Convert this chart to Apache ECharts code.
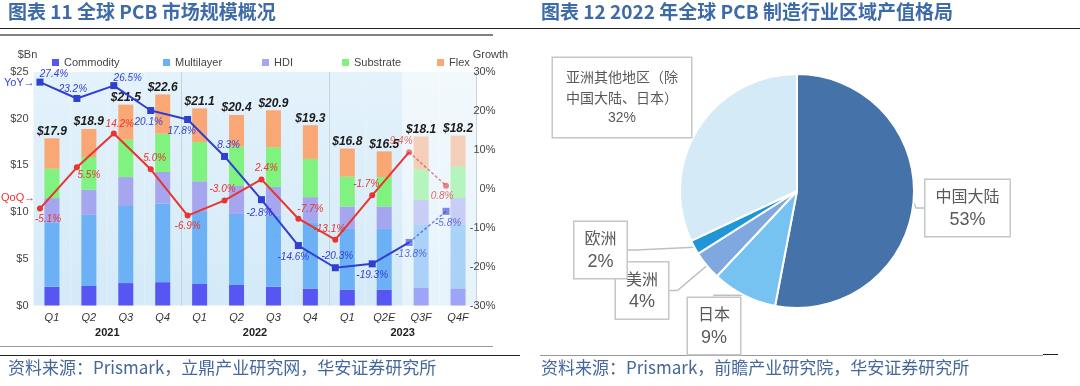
<!DOCTYPE html>
<html><head><meta charset="utf-8">
<script src="https://cdn.jsdelivr.net/npm/echarts@6/dist/echarts.min.js"></script>
<style>html,body{margin:0;padding:0;background:#fff}#c{width:1080px;height:386px}</style>
</head><body><div id="c"></div>
<script>
// ---------- data ----------
const quarters = ['Q1','Q2','Q3','Q4','Q1','Q2','Q3','Q4','Q1','Q2E','Q3F','Q4F'];
const years = ['2021','2022','2023'];
const commodity  = [2.0, 2.1, 2.4, 2.5, 2.3, 2.2, 2.0, 1.8, 1.7, 1.7, 1.9, 1.8];
const multilayer = [6.9, 7.6, 8.25, 8.4, 7.7, 7.6, 7.6, 7.1, 6.5, 6.5, 6.75, 6.85];
const hdi        = [2.6, 2.7, 3.1, 3.4, 3.3, 3.0, 3.1, 2.7, 2.4, 2.4, 2.65, 2.85];
const substrate  = [3.15, 3.5, 4.0, 4.1, 4.2, 4.2, 4.25, 4.1, 3.2, 3.15, 3.3, 3.4];
const flex       = [3.25, 3.0, 3.75, 4.2, 3.6, 3.4, 3.95, 3.6, 3.0, 2.75, 3.5, 3.3];
const totals     = [17.9, 18.9, 21.5, 22.6, 21.1, 20.4, 20.9, 19.3, 16.8, 16.5, 18.1, 18.2];
const yoy = [27.4, 23.2, 26.5, 20.1, 17.8, 8.3, -2.8, -14.6, -20.3, -19.3, -13.8, -5.8];
const qoq = [-5.1, 5.5, 14.2, 5.0, -6.9, -3.0, 2.4, -7.7, -13.1, -1.7, 9.4, 0.8];
const barNames = ['Commodity','Multilayer','HDI','Substrate','Flex'];
const regions = ['中国大陆','日本','美洲','欧洲','亚洲其他地区（除中国大陆、日本）'];
const shares = [53, 9, 4, 2, 32];

// ---------- styles ----------
const barColors = ['#5656f2','#6cb0f6','#a6a6ee','#80f27f','#f9a875'];
const yoyColor = '#2f3fd2', qoqColor = '#e8352e';
const yoyLabelCfg = [
  ['top',[14,4]],['top',[-4,2]],['top',[14,4]],['bottom',[-2,0]],['bottom',[-6,0]],['top',[4,0]],
  ['bottom',[-2,2]],['bottom',[-5,0]],['top',[2,0]],['bottom',[0,0]],['bottom',[2,0]],['bottom',[2,0]]];
const qoqLabelCfg = [
  ['bottom',[8,0]],['bottom',[12,-3]],['top',[6,2]],['top',[4,0]],['bottom',[0,0]],['top',[-2,0]],
  ['top',[5,0]],['top',[12,2]],['top',[-6,0]],['top',[-6,0]],['top',[-8,0]],['bottom',[-4,0]]];
const pieColors = ['#4572a8','#76c2f1','#7ea8df','#1f96d6','#d5eaf7'];
const pieLabelPos = [[967.5,208],[714,326],[642,290.5],[600.5,250],[622,97.5]];

const isF = quarters.map(q => q.endsWith('F'));
const firstF = isF.indexOf(true);
const perYear = quarters.length / years.length;
const bgA = {type:'linear',x:0,y:0,x2:0,y2:1,colorStops:[{offset:0,color:'#e4f2fb'},{offset:1,color:'#d4eaf8'}]};
const bgB = {type:'linear',x:0,y:0,x2:0,y2:1,colorStops:[{offset:0,color:'#f2f9fd'},{offset:1,color:'#e6f3fb'}]};

const G = {left:33.5, top:72, width:443, height:233.5};
const SHIFT = 12;

const lblFont = {fontStyle:'italic', fontSize:10, fontFamily:'Liberation Sans'};

function lineSeries(arr, cfg, color, symbol, symbolSize) {
  const solid = {
    type:'line', xAxisIndex:2, yAxisIndex:1, z:6, symbol, symbolSize,
    lineStyle:{color, width:2}, itemStyle:{color},
    data: arr.map((v,i) => {
      if (i > firstF) return null;
      const first = i === firstF;
      return {value:v, symbol: first ? 'none' : symbol,
        label:{show:!first, position:cfg[i][0], offset:cfg[i][1], distance:3,
          formatter: p => p.value.toFixed(1)+'%', color, ...lblFont}};
    })
  };
  const dashed = {
    type:'line', xAxisIndex:2, yAxisIndex:1, z:6, symbol, symbolSize,
    lineStyle:{color, width:1.5, type:[3,2], opacity:0.6}, itemStyle:{color, opacity:0.6},
    data: arr.map((v,i) => isF[i] ? {value:v,
        label:{show:true, position:cfg[i][0], offset:cfg[i][1], distance:3,
          formatter: p => p.value.toFixed(1)+'%', color, opacity:0.75, ...lblFont}} : null)
  };
  return [solid, dashed];
}

const barData = [commodity, multilayer, hdi, substrate, flex];
const bars = barData.map((arr,k) => ({
  type:'bar', name:barNames[k], stack:'mkt', xAxisIndex:0, yAxisIndex:0, barWidth:15, z:2,
  itemStyle:{color:barColors[k]},
  data: arr.map((v,i) => ({value:v, itemStyle:{opacity: isF[i] ? 0.5 : 1}})),
  label: k === barData.length-1 ? {show:true, position:'top', distance:1,
    formatter: p => '$' + totals[p.dataIndex].toFixed(1),
    fontStyle:'italic', fontWeight:'bold', fontSize:12, color:'#1a1a1a', fontFamily:'Liberation Sans', opacity:1}
    : {show:false}
}));

function pieLabel(p) {
  const name = p.name;
  if (name.length > 8) {
    const lines = [];
    for (let i = 0; i < name.length; i += 8) lines.push('{ns|' + name.slice(i, i+8) + '}');
    return lines.join('\n') + '\n{ps|' + p.value + '%}';
  }
  return '{n|' + name + '}\n{p|' + p.value + '%}';
}

const option = {
  animation:false,
  textStyle:{fontFamily:'Liberation Sans'},
  grid:[
    {left:G.left, top:G.top, width:G.width, height:G.height},
    {left:G.left-SHIFT, top:G.top, width:G.width, height:G.height}
  ],
  legend: barNames.map((n,i) => ({
    data:[n], left:[52,163,262,342,437][i], top:57, icon:'rect', itemWidth:7, itemHeight:7,
    textStyle:{fontSize:11, color:'#444', fontFamily:'Liberation Sans'}, padding:0
  })),
  xAxis:[
    {type:'category', gridIndex:0, data:quarters,
     axisLine:{show:false}, axisTick:{show:false},
     axisLabel:{fontStyle:'italic', fontSize:11, color:'#333', margin:7, interval:0},
     splitArea:{show:true, interval:0, areaStyle:{color: quarters.map((q,i)=> isF[i] ? bgB : bgA)}},
     splitLine:{show:true, interval:(i)=> i>0 && i%perYear===0, lineStyle:{color:'#c5d3de', width:1}}},
    {type:'category', gridIndex:0, data:years, position:'bottom', offset:16,
     axisLine:{show:false}, axisTick:{show:false},
     axisLabel:{fontWeight:'bold', fontSize:11, color:'#222', margin:6}},
    {type:'category', gridIndex:1, data:quarters, show:false}
  ],
  yAxis:[
    {type:'value', gridIndex:0, min:0, max:25, interval:5, name:'$Bn', nameGap:12,
     nameTextStyle:{fontSize:11, color:'#444', padding:[0,12,0,0]},
     axisLine:{show:false}, axisTick:{show:false}, splitLine:{show:false},
     axisLabel:{formatter:v=>'$'+v, fontSize:11, color:'#444', margin:5}},
    {type:'value', gridIndex:1, min:-30, max:30, interval:10, position:'right', offset:SHIFT,
     name:'Growth', nameGap:12, nameTextStyle:{fontSize:11, color:'#444', padding:[0,0,0,28]},
     axisLine:{show:false}, axisTick:{show:false}, splitLine:{show:false},
     axisLabel:{formatter:v=>v+'%', fontSize:11, color:'#444', margin:19, align:'right'}}
  ],
  series: [
    ...bars,
    ...lineSeries(yoy, yoyLabelCfg, yoyColor, 'rect', 7),
    ...lineSeries(qoq, qoqLabelCfg, qoqColor, 'circle', 6),
    {
      type:'pie', center:[797,191], radius:117, startAngle:90, clockwise:true,
      color: pieColors, avoidLabelOverlap:false,
      itemStyle:{borderColor:'#fff', borderWidth:2},
      data: regions.map((n,i) => ({name:n, value:shares[i],
        label:{padding: n.length > 8 ? [8,13] : [4,10]},
        labelLine:{show: n.length <= 8}})),
      label:{show:true, position:'outside', formatter: pieLabel,
        backgroundColor:'#fff', borderColor:'#c6c6c6', borderWidth:1.5,
        rich:{
          n:{fontSize:16, lineHeight:24, color:'#595959', fontFamily:'Noto Sans CJK SC', align:'center'},
          p:{fontSize:18, lineHeight:24, color:'#595959', fontFamily:'Liberation Sans', align:'center'},
          ns:{fontSize:14, lineHeight:21, color:'#595959', fontFamily:'Noto Sans CJK SC', align:'center'},
          ps:{fontSize:14, lineHeight:21, color:'#595959', fontFamily:'Liberation Sans', align:'center'}
        }},
      labelLine:{show:true, length:8, length2:8, lineStyle:{color:'#c0c0c0', width:1.5}},
      labelLayout: params => {
        const pos = pieLabelPos[params.dataIndex];
        return {x:pos[0], y:pos[1], align:'center', verticalAlign:'middle'};
      }
    }
  ],
  graphic:[
    {type:'text', left:8, top:2, style:{text:'图表 11 全球 PCB 市场规模概况', font:'bold 19px "Noto Sans CJK SC"', fill:'#3d6ba8'}},
    {type:'text', left:541, top:2, style:{text:'图表 12 2022 年全球 PCB 制造行业区域产值格局', font:'bold 19px "Noto Sans CJK SC"', fill:'#3d6ba8'}},
    {type:'line', shape:{x1:0,y1:28.5,x2:1080,y2:28.5}, style:{stroke:'#222', lineWidth:1}},
    {type:'line', shape:{x1:0,y1:35,x2:493,y2:35}, style:{stroke:'#808080', lineWidth:2}},
    {type:'line', shape:{x1:0,y1:346.5,x2:493,y2:346.5}, style:{stroke:'#9a9a9a', lineWidth:1}},
    {type:'line', shape:{x1:0,y1:355.5,x2:520,y2:355.5}, style:{stroke:'#222', lineWidth:1}},
    {type:'line', shape:{x1:540,y1:355.5,x2:1043,y2:355.5}, style:{stroke:'#999', lineWidth:1}},
    {type:'line', shape:{x1:1043,y1:354.5,x2:1058,y2:354.5}, style:{stroke:'#222', lineWidth:1}},
    {type:'text', left:8, top:359, style:{text:'资料来源：Prismark，立鼎产业研究网，华安证券研究所', font:'17px "Noto Sans CJK SC"', fill:'#44679c'}},
    {type:'text', left:541, top:359, style:{text:'资料来源：Prismark，前瞻产业研究院，华安证券研究所', font:'17px "Noto Sans CJK SC"', fill:'#44679c'}},
    {type:'text', left:4, top:77, style:{text:'YoY→', font:'11px "Liberation Sans"', fill:'#3343d4'}},
    {type:'text', left:1, top:192, style:{text:'QoQ→', font:'11px "Liberation Sans"', fill:'#e8352e'}}
  ]
};
echarts.init(document.getElementById('c')).setOption(option);
</script>
</body></html>
